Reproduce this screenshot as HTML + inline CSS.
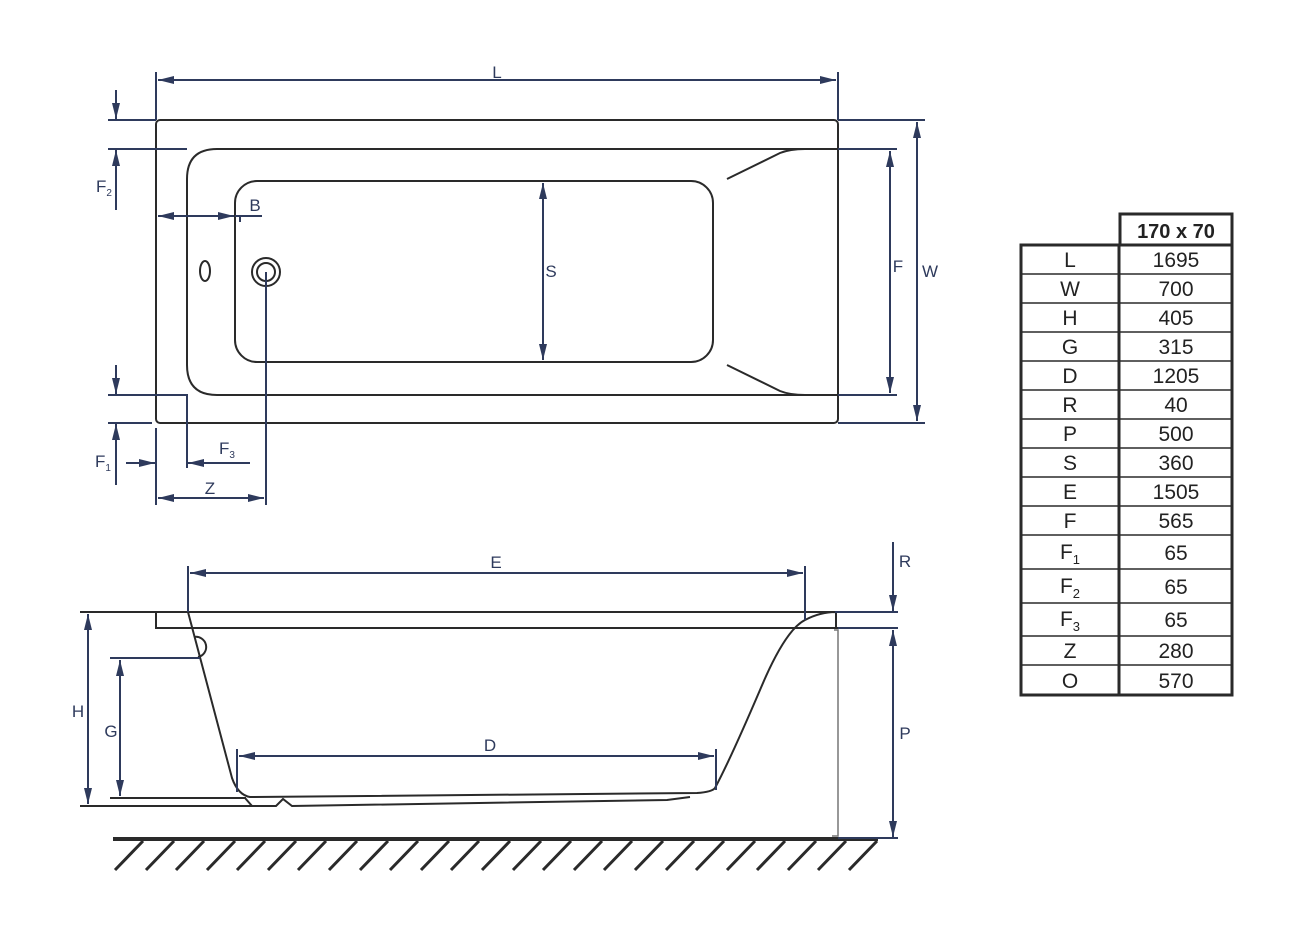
<!DOCTYPE html>
<html><head><meta charset="utf-8"><style>
html,body{margin:0;padding:0;background:#fff;}
svg{display:block;}
text{font-family:"Liberation Sans",sans-serif;fill:#2e3a5c;font-size:17px;}
.t text{fill:#222;font-size:21px;}
</style></head><body>
<svg width="1300" height="947" viewBox="0 0 1300 947" xmlns="http://www.w3.org/2000/svg">
<defs>
<marker id="a" viewBox="0 0 10 10" refX="10" refY="5" markerWidth="10" markerHeight="10" markerUnits="userSpaceOnUse" orient="auto-start-reverse">
<path d="M0,1.5 L10,5 L0,8.5 Z" fill="#2e3a5c"/></marker>
<marker id="b" viewBox="0 0 16 10" refX="16" refY="5" markerWidth="16" markerHeight="10" markerUnits="userSpaceOnUse" orient="auto-start-reverse">
<path d="M0,1 L16,5 L0,9 Z" fill="#2e3a5c"/></marker>
</defs>
<g fill="none" stroke="#2a2a2a" stroke-width="2">
<!-- top view -->
<rect x="156" y="120" width="682" height="303" rx="4"/>
<path d="M838,149 H217 Q187,149 187,179 V365 Q187,395 217,395 H838"/>
<rect x="235" y="181" width="478" height="181" rx="22"/>
<path d="M727,179 L780,153 Q790,149 805,149"/>
<path d="M727,365 L780,391 Q790,395 805,395"/>
<ellipse cx="205" cy="271" rx="5" ry="10"/>
<circle cx="266" cy="272" r="14"/>
<circle cx="266" cy="272" r="9"/>
<!-- side view -->
<path d="M80,612 H835"/>
<path d="M156,612 V628 H898"/>
<path d="M188,612 L232,778 Q238,795 250,797 L697,793 Q712,792 715,788 Q730,760 760,690 Q785,630 805,620 Q820,612 836,612 V628"/>
<path d="M194,637 A10,10 0 0 1 198,657"/>
<path d="M80,806 H252 L245,798 M252,806 H276 L283,799 L292,806 L667,800 L690,797"/>
<path d="M110,798 H246"/>
</g>
<path d="M834,630 H838 V836 H832" fill="none" stroke="#777" stroke-width="1.5"/>
<!-- ground -->
<path d="M113,839 H878" stroke="#2a2a2a" stroke-width="4"/>
<g stroke="#2a2a2a" stroke-width="3">
<path d="M143,841 l-28,29 M174,841 l-28,29 M204,841 l-28,29 M235,841 l-28,29 M265,841 l-28,29 M296,841 l-28,29 M326,841 l-28,29 M357,841 l-28,29 M388,841 l-28,29 M418,841 l-28,29 M449,841 l-28,29 M479,841 l-28,29 M510,841 l-28,29 M541,841 l-28,29 M571,841 l-28,29 M602,841 l-28,29 M632,841 l-28,29 M663,841 l-28,29 M694,841 l-28,29 M724,841 l-28,29 M755,841 l-28,29 M785,841 l-28,29 M816,841 l-28,29 M846,841 l-28,29 M877,841 l-28,29"/>
</g>
<!-- dimension lines -->
<g stroke="#2e3a5c" stroke-width="2" fill="none">
<path d="M156,72 V120 M838,72 V120"/>
<path d="M158,80 H836" marker-start="url(#b)" marker-end="url(#b)"/>
<path d="M108,120 H156 M108,149 H187"/>
<path d="M116,90 V119" marker-end="url(#b)"/>
<path d="M116,210 V150" marker-end="url(#b)"/>
<path d="M158,216 H234" marker-start="url(#b)" marker-end="url(#b)"/>
<path d="M235,216 H262 M240,216 V222"/>
<path d="M108,395 H187 V468 M108,423 H152"/>
<path d="M116,365 V394" marker-end="url(#b)"/>
<path d="M116,485 V424" marker-end="url(#b)"/>
<path d="M156,428 V505"/>
<path d="M126,463 H155" marker-end="url(#b)"/>
<path d="M250,463 H188" marker-end="url(#b)"/>
<path d="M266,272 V505"/>
<path d="M158,498 H264" marker-start="url(#b)" marker-end="url(#b)"/>
<path d="M543,183 V360" marker-start="url(#b)" marker-end="url(#b)"/>
<path d="M838,149 H897 M838,395 H897 M838,120 H925 M838,423 H925"/>
<path d="M890,151 V393" marker-start="url(#b)" marker-end="url(#b)"/>
<path d="M917,122 V421" marker-start="url(#b)" marker-end="url(#b)"/>
<path d="M188,566 V612 M805,566 V620"/>
<path d="M190,573 H803" marker-start="url(#b)" marker-end="url(#b)"/>
<path d="M237,749 V792 M716,749 V790"/>
<path d="M239,756 H714" marker-start="url(#b)" marker-end="url(#b)"/>
<path d="M88,614 V804" marker-start="url(#b)" marker-end="url(#b)"/>
<path d="M110,658 H200"/>
<path d="M120,660 V796" marker-start="url(#b)" marker-end="url(#b)"/>
<path d="M835,612 H898 M838,628 H898 M838,838 H898"/>
<path d="M893,542 V611" marker-end="url(#b)"/>
<path d="M893,630 V837" marker-start="url(#b)" marker-end="url(#b)"/>
</g>
<g text-anchor="middle">
<text x="497" y="78">L</text>
<text x="255" y="211">B</text>
<text x="551" y="277">S</text>
<text x="898" y="272">F</text>
<text x="930" y="277">W</text>
<text x="210" y="494">Z</text>
<text x="496" y="568">E</text>
<text x="490" y="751">D</text>
<text x="78" y="717">H</text>
<text x="111" y="737">G</text>
<text x="905" y="567">R</text>
<text x="905" y="739">P</text>
</g>
<text x="96" y="192">F<tspan font-size="10" dy="4">2</tspan></text>
<text x="95" y="467">F<tspan font-size="10" dy="4">1</tspan></text>
<text x="219" y="454">F<tspan font-size="10" dy="4">3</tspan></text>
<!-- table -->
<g fill="none" stroke="#2a2a2a">
<rect x="1120" y="214" width="112" height="31" stroke-width="3"/>
<rect x="1021" y="245" width="211" height="450" stroke-width="3"/>
<path d="M1119,245 V695" stroke-width="3"/>
<path stroke-width="1.5" d="M1021,274 H1232 M1021,303 H1232 M1021,332 H1232 M1021,361 H1232 M1021,390 H1232 M1021,419 H1232 M1021,448 H1232 M1021,477 H1232 M1021,506 H1232 M1021,535 H1232 M1021,569 H1232 M1021,603 H1232 M1021,636 H1232 M1021,665 H1232"/>
</g>
<g class="t" text-anchor="middle">
<text x="1176" y="238" font-weight="bold" style="font-size:20px">170 x 70</text>
<text x="1070" y="267">L</text><text x="1176" y="267">1695</text>
<text x="1070" y="296">W</text><text x="1176" y="296">700</text>
<text x="1070" y="325">H</text><text x="1176" y="325">405</text>
<text x="1070" y="354">G</text><text x="1176" y="354">315</text>
<text x="1070" y="383">D</text><text x="1176" y="383">1205</text>
<text x="1070" y="412">R</text><text x="1176" y="412">40</text>
<text x="1070" y="441">P</text><text x="1176" y="441">500</text>
<text x="1070" y="470">S</text><text x="1176" y="470">360</text>
<text x="1070" y="499">E</text><text x="1176" y="499">1505</text>
<text x="1070" y="528">F</text><text x="1176" y="528">565</text>
<text x="1070" y="559">F<tspan style="font-size:13px" dy="5">1</tspan></text><text x="1176" y="560">65</text>
<text x="1070" y="593">F<tspan style="font-size:13px" dy="5">2</tspan></text><text x="1176" y="594">65</text>
<text x="1070" y="626">F<tspan style="font-size:13px" dy="5">3</tspan></text><text x="1176" y="627">65</text>
<text x="1070" y="658">Z</text><text x="1176" y="658">280</text>
<text x="1070" y="688">O</text><text x="1176" y="688">570</text>
</g>
</svg>
</body></html>
